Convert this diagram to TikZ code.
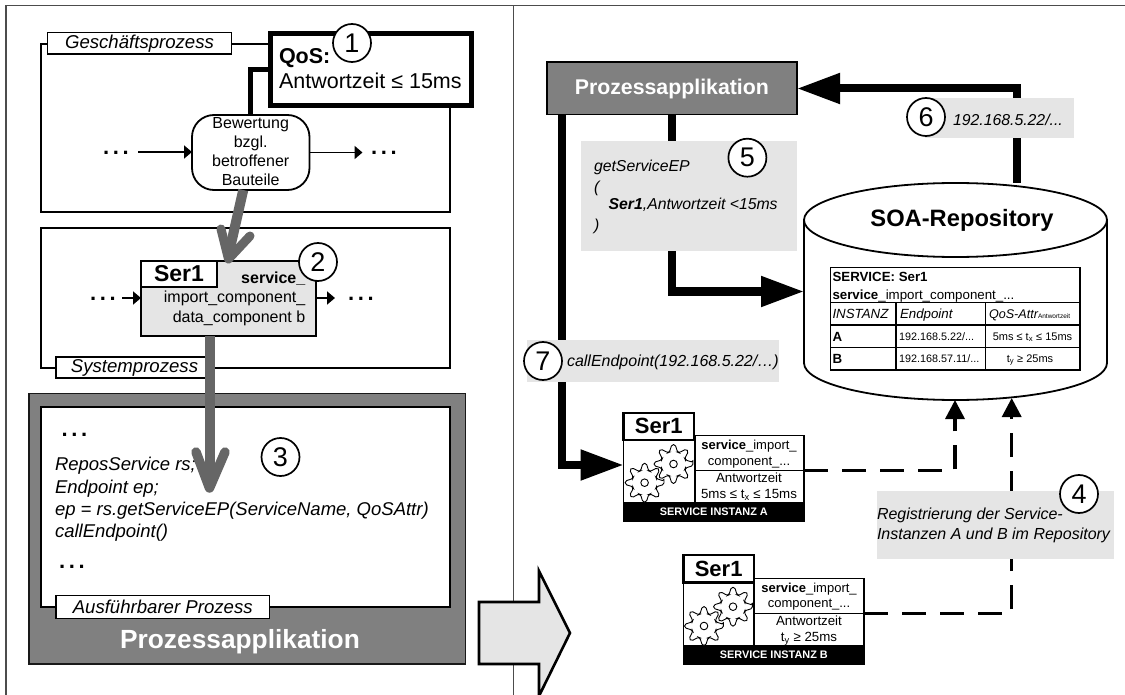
\documentclass[tikz,border=0pt]{standalone}
\usepackage{fontspec}
\setmainfont{Liberation Sans}
\usetikzlibrary{arrows.meta,calc}
\newcommand\fpx[1]{\fontsize{#1}{#1}\selectfont}
\newcommand\bxn[7][]{% style, name, x1,y1,x2,y2, text
  \pgfmathsetmacro\bw{#5-#3}\pgfmathsetmacro\bh{#6-#4}%
  \pgfmathsetmacro\bx{(#3+#5)/2}\pgfmathsetmacro\by{(#4+#6)/2}%
  \node[#1,rectangle,inner sep=0pt,outer sep=0pt,minimum width=\bw pt,minimum height=\bh pt] (#2) at (\bx,\by) {#7};}
\tikzset{
  frame/.style={draw=black,line width=1.8pt,fill=white},
  lbl/.style={draw=black,line width=1.8pt,fill=white,font=\fpx{18.6}\itshape},
  num/.style={circle,draw=black,line width=1.7pt,fill=white,minimum size=38pt,inner sep=0pt,font=\fpx{27}},
  grey/.style={fill=black!10},
  txt/.style={inner sep=0pt,outer sep=0pt,anchor=base west,align=left},
  ctxt/.style={inner sep=0pt,outer sep=0pt,anchor=base,align=center},
  dots/.style={inner sep=0pt,anchor=base,font=\fpx{22}\bfseries},
  thin arrow/.style={line width=1.8pt,-{Triangle[length=8pt,width=13pt]}},
  heavy/.style={line width=8pt,draw=black},
  heavy arrow/.style={heavy,-{Triangle[length=43pt,width=29pt]}},
  slate/.style={draw=black!60,line cap=round,line join=round},
  regline/.style={line width=3.5pt,dash pattern=on 24pt off 14pt,-{Triangle[length=19pt,width=19pt]}},
  cellbox/.style={draw=black,line width=1.2pt,fill=white},
  serbox/.style={draw=black,line width=2.4pt,fill=white,font=\fpx{22}\bfseries},
  gearline/.style={draw=black,line width=0.9pt,fill=white,rounded corners=1.6pt},
}
\newcommand\gear[3]{% name, x, y
  \coordinate (#1) at (#2,#3);
  \draw[gearline] ($(#1)+(-5:19.5)$)
    \foreach \a in {0,45,...,315} { -- ($(#1)+(\a-5:19.5)$) -- ($(#1)+(\a+5:19.5)$) -- ($(#1)+(\a+19:12.5)$) -- ($(#1)+(\a+26:12.5)$) } -- cycle;
  \draw[line width=0.9pt] (#1) circle[radius=3.8pt];}
\begin{document}
\begin{tikzpicture}[x=1pt,y=-1pt]
\useasboundingbox (0,0) rectangle (1125,695);
\fill[white] (0,0) rectangle (1125,695);
% outer frame
\draw[black!70,line width=1.3pt] (6,695) -- (6,5.5) -- (1125,5.5);
\draw[black!70,line width=1.3pt] (513.5,5.5) -- (513.5,695);

% ---------- left: business process
\bxn[frame]{gp}{40.7}{44}{450}{212}{}
\bxn[lbl]{gplabel}{47.5}{32.5}{231.5}{54}{Geschäftsprozess}
\bxn[draw=black,line width=5pt,fill=white]{qos}{270.5}{33.5}{471.5}{106}{}
\bxn[draw=black,line width=1.8pt,fill=white,rounded corners=22pt]{bew}{192}{115}{309.5}{190}{}
\node[ctxt,font=\fpx{16}] (bew1) at (250.7,129) {Bewertung};
\node[ctxt,font=\fpx{16}] (bew2) at (250.7,148) {bzgl.};
\node[ctxt,font=\fpx{16}] (bew3) at (250.7,167) {betroffener};
\node[ctxt,font=\fpx{16}] (bew4) at (250.7,186) {Bauteile};
\draw[line width=5pt] (bew.north) |- (qos.west);
\node[txt,font=\fpx{21.5}\bfseries] (qostitle) at (279,63.5) {QoS:};
\node[txt,font=\fpx{21.5}] (qostext) at (279,89) {Antwortzeit ≤ 15ms};
\node[num] (n1) at (352,43) {1};
\node[dots] (d1) at (116,155) {.\,.\,.};
\node[dots] (d2) at (384,155) {.\,.\,.};
\coordinate (s1) at (138,152);
\draw[thin arrow] (s1) -- (bew.west |- s1);
\draw[thin arrow] (bew.east) -- ++(53,0);

% ---------- system process
\bxn[frame]{sp}{40.7}{227.7}{450}{367.7}{}
\bxn[draw=black,line width=1.6pt,fill=black!10]{ser}{141}{261}{316}{336}{}
\bxn[draw=black,line width=1.6pt,fill=white,font=\fpx{23}\bfseries]{sertag}{141}{261}{217}{287}{Ser1}
\node[inner sep=0pt,anchor=base east,font=\fpx{16}\bfseries] (s1t) at (305.5,283.5) {service\_};
\node[inner sep=0pt,anchor=base east,font=\fpx{16}] (s2t) at (305.5,302.5) {import\_component\_};
\node[inner sep=0pt,anchor=base east,font=\fpx{16}] (s3t) at (305.5,322) {data\_component b};
\bxn[lbl]{splabel}{56}{357}{213}{378}{Systemprozess}
\node[num] (n2) at (318,262) {2};
\node[dots] (d3) at (103,301) {.\,.\,.};
\node[dots] (d4) at (361,301) {.\,.\,.};
\coordinate (s3) at (122,298);
\draw[thin arrow] (s3) -- (ser.west |- s3);
\draw[thin arrow] (ser.east |- s3) -- ++(19,0);

% ---------- application
\bxn[draw=black!90,line width=1.6pt,fill=black!50]{app}{28.7}{393.5}{465.4}{664}{}
\bxn[frame]{exec}{41}{407.3}{450}{607.3}{}
\bxn[lbl]{exlabel}{56}{595.5}{269.4}{618.5}{Ausführbarer Prozess}
\node[ctxt,font=\fpx{26.3}\bfseries,text=white] (apptext) at (240,648) {Prozessapplikation};
\node[dots] (d5) at (74.5,436) {.\,.\,.};
\node[txt,font=\fpx{18.5}\itshape] (c1) at (55,470.5) {ReposService rs;};
\node[txt,font=\fpx{18.5}\itshape] (c2) at (55,493) {Endpoint ep;};
\node[txt,font=\fpx{18.5}\itshape] (c3) at (55,515) {ep = rs.getServiceEP(ServiceName, QoSAttr)};
\node[txt,font=\fpx{18.5}\itshape] (c4) at (55,537.5) {callEndpoint()};
\node[dots] (d6) at (72,568) {.\,.\,.};
\node[num] (n3) at (280.5,457) {3};

% grey arrows
\draw[slate,line width=10pt,line cap=butt] ([xshift=-7.5pt]bew.south) -- ([yshift=6pt]ser.north);
\draw[slate,line width=9pt] (221,229) -- ([yshift=2pt]ser.north) -- (250,236);
\coordinate (tip3) at (209.5,488);
\draw[slate,line width=10pt,line cap=butt] ([xshift=-19pt]ser.south) -- (tip3);
\draw[slate,line width=9.5pt] (196,452) -- (tip3) -- (225,452);

% big white arrow
\draw[draw=black,line width=2.6pt,fill=black!10,line join=miter] (479,602) coordinate (ba1) -- (539,602) -- (539,571) -- (570,633) coordinate (ba) -- (539,696) -- (539,664) -- (479,664) -- cycle;

% ---------- right
\bxn[draw=black,line width=1.6pt,fill=black!50,font=\fpx{21.3}\bfseries,text=white]{pa}{546.7}{62.3}{797}{114.7}{Prozessapplikation}
\bxn{repo}{804}{183}{1107}{400}{}
% connectors
\draw[heavy arrow] ([xshift=61.5pt]repo.north) |- (pa.east);
\draw[heavy arrow] (pa.south) |- (repo.west);
% instances
\bxn[draw=black,line width=1.2pt,fill=white]{ab}{623.6}{436}{695}{503}{}
\bxn[cellbox]{aup}{695}{435.7}{804}{470.3}{}
\bxn[cellbox]{alo}{695}{470.3}{804}{503}{}
\bxn[fill=black,draw=black,font=\fpx{10.9}\bfseries,text=white]{aband}{623.6}{503}{804}{521}{SERVICE INSTANZ A}
\bxn[serbox]{atag}{623.6}{412.7}{694}{440}{Ser1}
\bxn[draw=black,line width=1.2pt,fill=white]{bb}{683.6}{578}{754}{646}{}
\bxn[cellbox]{bup}{754}{578.3}{864}{613.3}{}
\bxn[cellbox]{blo}{754}{613.3}{864}{646}{}
\bxn[fill=black,draw=black,font=\fpx{10.9}\bfseries,text=white]{bband}{683.6}{646}{864}{664}{SERVICE INSTANZ B}
\bxn[serbox]{btag}{683.6}{555}{753.7}{582.3}{Ser1}
\draw[heavy arrow] ([xshift=-109.5pt]pa.south) |- (ab.west |- 0,465);
\gear{ga1}{673.5}{464}\gear{ga2}{644.6}{482.7}
\gear{gb1}{733}{606.7}\gear{gb2}{704}{626}
\node[ctxt,font=\fpx{13}] (at1) at (749,449.5) {\textbf{service}\_import\_};
\node[ctxt,font=\fpx{13}] (at2) at (749,465) {component\_...};
\node[ctxt,font=\fpx{13.3}] (at3) at (749,482) {Antwortzeit};
\node[ctxt,font=\fpx{13.3}] (at4) at (749,498) {5ms ≤ t\textsubscript{x} ≤ 15ms};
\node[ctxt,font=\fpx{13}] (bt1) at (809,592) {\textbf{service}\_import\_};
\node[ctxt,font=\fpx{13}] (bt2) at (809,607.5) {component\_...};
\node[ctxt,font=\fpx{13.3}] (bt3) at (809,625) {Antwortzeit};
\node[ctxt,font=\fpx{13.3}] (bt4) at (809,641) {t\textsubscript{y} ≥ 25ms};
% dashed
\draw[regline] (aup.south east) -| ([xshift=-0.5pt]repo.south);
\draw[regline] (bup.south east) -| ([xshift=56.2pt,yshift=2pt]repo.south);
% cylinder
\draw[line width=1.8pt,fill=white] (804,220) -- (804,363) arc[start angle=180,end angle=360,x radius=151.5pt,y radius=37pt] -- (1107,220);
\draw[line width=1.8pt,fill=white] (955.5,220) ellipse[x radius=151.5pt,y radius=37pt];
\node[ctxt,font=\fpx{23.7}\bfseries] (soa) at (962,227) {SOA-Repository};
% table
\bxn[draw=black,line width=1.5pt,fill=white]{tb}{830.6}{267.7}{1080}{370}{}
\draw[line width=1.2pt] (tb.west |- 0,302.3) -- (tb.east |- 0,302.3);
\draw[line width=1.2pt] (tb.west |- 0,325) -- (tb.east |- 0,325);
\draw[line width=1.2pt] (tb.west |- 0,347.7) -- (tb.east |- 0,347.7);
\draw[line width=1.2pt] (896,302.3) -- (896,370);
\draw[line width=1.2pt] (985.5,302.3) -- (985.5,370);
\node[txt,font=\fpx{13.3}\bfseries] (t1) at (832.5,282) {SERVICE: Ser1};
\node[txt,font=\fpx{13.3}] (t2) at (832.5,299) {\textbf{service}\_import\_component\_...};
\node[txt,font=\fpx{13.3}\itshape] (t3) at (832.5,318) {INSTANZ};
\node[txt,font=\fpx{13.3}\itshape] (t4) at (900,318) {Endpoint};
\node[txt,font=\fpx{12.6}\itshape] (t5) at (989,318) {QoS-Attr{\fpx{6.5}\upshape Antwortzeit}};
\node[txt,font=\fpx{13.3}\bfseries] (t6) at (832.5,341) {A};
\node[txt,font=\fpx{10.8}] (t7) at (899,340) {192.168.5.22/...};
\node[ctxt,font=\fpx{11}] (t8) at (1032.5,340) {5ms ≤ t\textsubscript{x} ≤ 15ms};
\node[txt,font=\fpx{13.3}\bfseries] (t9) at (832.5,363) {B};
\node[txt,font=\fpx{10.8}] (t10) at (899,362) {192.168.57.11/...};
\node[ctxt,font=\fpx{11}] (t11) at (1030,362) {t\textsubscript{y} ≥ 25ms};
% grey labels
\bxn[grey]{g5}{581}{141}{797}{250.7}{}
\bxn[grey]{g6}{925}{98}{1074}{138}{}
\bxn[grey]{g7}{527}{340}{779}{381.7}{}
\bxn[grey]{g4}{876.7}{491}{1113.7}{559}{}
\node[txt,font=\fpx{15.8}\itshape] (l51) at (594,172) {getServiceEP};
\node[txt,font=\fpx{15.8}\itshape] (l52) at (594,193) {(};
\node[txt,font=\fpx{15.8}\itshape] (l53) at (608.6,210) {\textbf{Ser1},Antwortzeit <15ms};
\node[txt,font=\fpx{15.8}\itshape] (l54) at (594,231) {)};
\node[txt,font=\fpx{15.8}\itshape] (l6) at (953,125.5) {192.168.5.22/...};
\node[txt,font=\fpx{16}\itshape] (l7) at (567,366) {callEndpoint(192.168.5.22/…)};
\node[txt,font=\fpx{16}\itshape] (l41) at (877,519) {Registrierung der Service-};
\node[txt,font=\fpx{16}\itshape] (l42) at (877,539) {Instanzen A und B im Repository};
\node[num] (n4) at (1079,494) {4};
\node[num] (n5) at (747.4,157.7) {5};
\node[num] (n6) at (926,117) {6};
\node[num] (n7) at (543,361) {7};
\end{tikzpicture}
\end{document}
